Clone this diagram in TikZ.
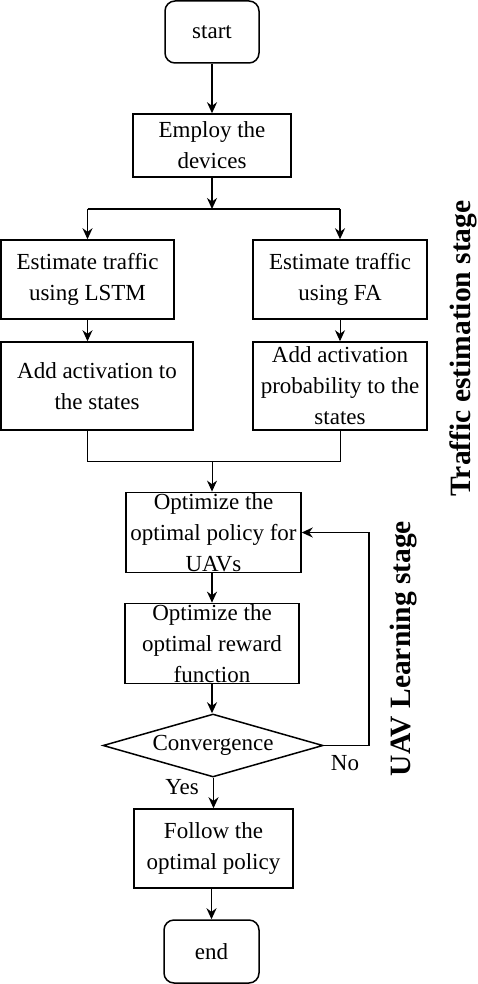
\documentclass[tikz,border=0pt]{standalone}
\usepackage{fontspec}
\setmainfont{Liberation Serif}
\usetikzlibrary{arrows.meta,shapes.geometric}
\tikzset{
  flow box/.style={rectangle, draw, line width=1.5pt, align=center, inner sep=1pt, font=\fontsize{23}{31}\selectfont},
  flow term/.style={flow box, rounded corners=10pt},
  flow test/.style={diamond, draw, line width=1.5pt, aspect=3.5, inner sep=0pt, font=\fontsize{23}{31}\selectfont},
  flow arrow/.style={line width=1.8pt, -{Stealth[length=11pt,width=10pt]}},
  flow thin/.style={line width=1pt, -{Stealth[length=11pt,width=10pt]}},
  flow line/.style={line width=1.8pt},
  flow join/.style={line width=1pt},
  flow label/.style={font=\fontsize{23}{26}\selectfont},
  stage label/.style={rotate=90, font=\fontsize{29.5}{32}\selectfont\bfseries}
}

\begin{document}
\begin{tikzpicture}[x=1pt, y=-1pt]
      \useasboundingbox (0,0) rectangle (478,984);
      \node[flow term, minimum width=94pt, minimum height=62pt] (start) at (212,32) {start};
      \node[flow box, minimum width=158pt, minimum height=63pt] (employ) at (212,145.5) {Employ the\\devices};
      \node[flow box, minimum width=173pt, minimum height=79pt] (lstm) at (87.5,279.5) {Estimate traffic\\using LSTM};
      \node[flow box, minimum width=174pt, minimum height=79pt] (fa) at (340,279.5) {Estimate traffic\\using FA};
      \node[flow box, minimum width=192pt, minimum height=88pt] (addl) at (97,386) {Add activation to\\the states};
      \node[flow box, minimum width=174pt, minimum height=88pt] (addr) at (340,386) {Add activation\\probability to the\\states};
      \node[flow box, minimum width=175pt, minimum height=79pt] (policy) at (213.5,532.5) {Optimize the\\optimal policy for\\UAVs};
      \node[flow box, minimum width=174pt, minimum height=79pt] (reward) at (212,643.5) {Optimize the\\optimal reward\\function};
      \node[flow test, minimum width=220pt, minimum height=63pt] (conv) at (213,745.5) {Convergence};
      \node[flow box, minimum width=159pt, minimum height=79pt] (follow) at (213.5,848.5) {Follow the\\optimal policy};
      \node[flow term, minimum width=95pt, minimum height=63pt] (end) at (211.5,951.5) {end};
      \coordinate (split) at (212,209);
      \coordinate (merge) at (212,461);
      \coordinate (loop) at (369,745.5);
      % branch to the two estimators
      \draw[flow arrow] (start) -- (employ);
      \draw[flow arrow] (employ) -- (split);
      \draw[flow line] (lstm |- split) -- (fa |- split);
      \draw[flow arrow] (lstm |- split) -- (lstm);
      \draw[flow arrow] (fa |- split) -- (fa);
      \draw[flow thin] (lstm) -- (lstm |- addl.north);
      \draw[flow thin] (fa) -- (addr);
      % merge into the learning stage
      \draw[flow join] (lstm |- addl.south) -- (lstm |- merge) -- (addr.south |- merge) -- (addr.south);
      \draw[flow thin] (merge) -- (merge |- policy.north);
      \draw[flow arrow] (policy.south -| reward) -- (reward);
      \draw[flow arrow] (reward) -- (reward |- conv.north);
      \draw[flow line] (conv.east) -- (loop);
      \draw[flow arrow] (loop) -- (loop |- policy.east) -- (policy.east);
      \draw[flow arrow] (conv.south -| follow) -- (follow);
      \draw[flow arrow] (follow.south -| end) -- (end);
      \node[flow label] (no) at (345,763) {No};
      \node[flow label] (yes) at (182,787) {Yes};
      \node[stage label] (traffic) at (463,348.5) {Traffic estimation stage};
      \node[stage label] (uav) at (404,648.5) {UAV Learning stage};
    \end{tikzpicture}
\end{document}
